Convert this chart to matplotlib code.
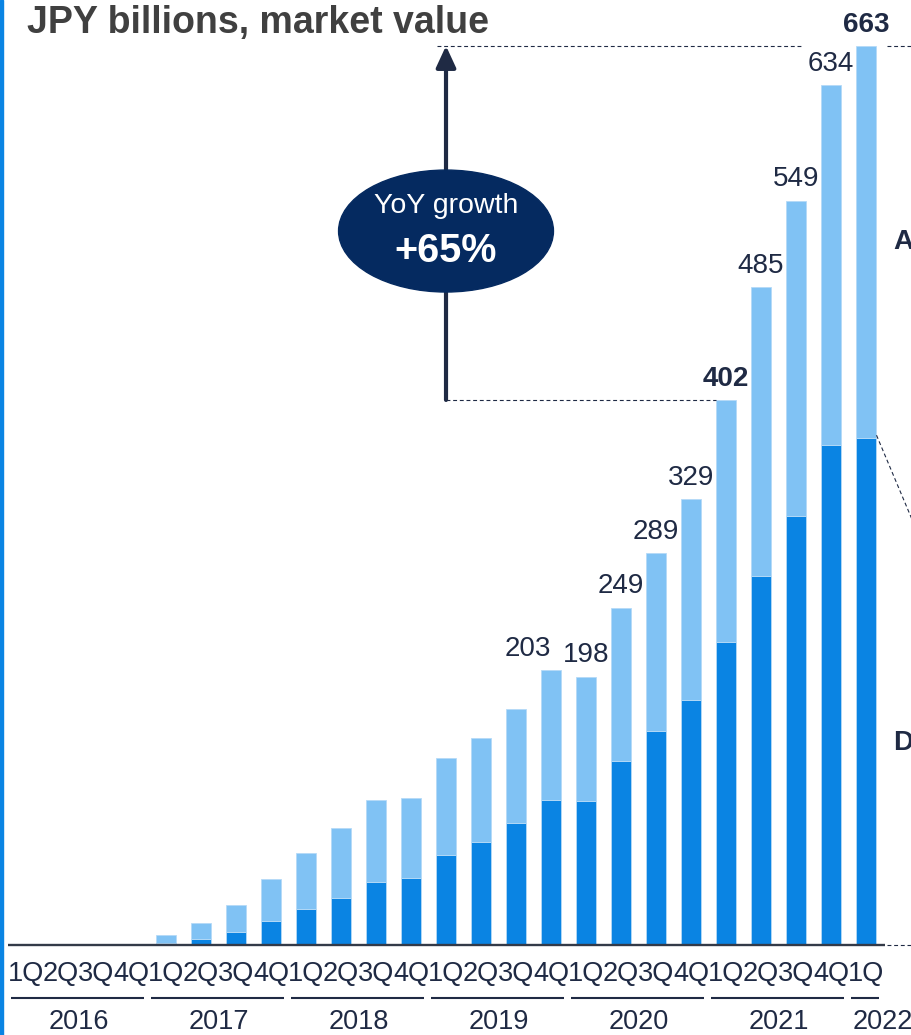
import numpy as np
import matplotlib.pyplot as plt
from matplotlib.patches import Ellipse, Rectangle

plt.rcParams['font.family'] = ['Liberation Sans', 'DejaVu Sans']

# quarterly market value, JPY billions
quarters = ['1Q', '2Q', '3Q', '4Q'] * 6 + ['1Q']
years = ['2016', '2017', '2018', '2019', '2020', '2021', '2022']
total = [0, 0, 0.3, 1.2,
         7.6, 16.2, 29.5, 48.9,
         67.8, 86.2, 106.9, 108.6,
         138.3, 152.6, 174.2, 203,
         198, 249, 289, 329,
         402, 485, 549, 634,
         663]
lower = [0, 0, 0.2, 0.8,
         1.9, 4.4, 9.8, 17.9,
         26.5, 35.1, 46.9, 49.8,
         66.6, 75.9, 90.1, 107.1,
         106.4, 136.1, 158.2, 180.8,
         223.6, 272.4, 316.7, 368.8,
         374.2]
labelled = [15, 16, 17, 18, 19, 20, 21, 22, 23, 24]
bold_labels = [20, 24]

dark_blue = '#0A84E3'
light_blue = '#80C2F4'
navy = '#1F2A44'
oval = '#052A60'

x = np.arange(len(total))
lower = np.array(lower)
upper = np.array(total) - lower

fig = plt.figure(figsize=(9.12, 10.35), dpi=100)
ax = fig.add_axes([0, 0, 1, 1])
ax.axis('off')
ax.set_xlim(-0.743, 25.314)
ax.set_ylim(-66.1, 696.8)

w = 0.57
ax.bar(x, lower, width=w, color=dark_blue, edgecolor='#b5daf7', linewidth=0.6, zorder=2)
ax.bar(x, upper, bottom=lower, width=w, color=light_blue, edgecolor='#b5daf7',
       linewidth=0.6, zorder=2)

# baseline
ax.plot([-0.51, 24.54], [0, 0], color='#333A48', lw=1.7, zorder=3, solid_capstyle='butt')
dash = (0, (3.5, 2.5))
ax.plot([24.6, 25.4], [0, 0], color=navy, lw=0.8, ls=dash)

# value labels
for i in labelled:
    dx = -17 if i == 15 else 0
    ax.annotate(f'{total[i]:g}', (x[i], total[i]), xytext=(dx, 6),
                textcoords='offset points', ha='center', va='bottom',
                fontsize=20, color=navy,
                fontweight='bold' if i in bold_labels else 'normal')

# growth arrow between 1Q 2021 and 1Q 2022
ax_x = 12
ax.plot([ax_x, 19.71], [total[20], total[20]], color=navy, lw=0.8, ls=dash)
ax.plot([11.75, 22.17], [total[24], total[24]], color=navy, lw=0.8, ls=dash)
ax.plot([24.6, 25.4], [total[24], total[24]], color=navy, lw=0.8, ls=dash)
ax.annotate('', xy=(ax_x, total[24]), xytext=(ax_x, total[20]),
            arrowprops=dict(arrowstyle='-|>,head_length=0.65,head_width=0.3',
                            lw=3, color=navy, mutation_scale=20,
                            shrinkA=0, shrinkB=0), zorder=4)
ax.add_patch(Ellipse((ax_x, 526.5), 6.14, 89.9, color=oval, zorder=5))
ax.text(ax_x, 545, 'YoY growth', ha='center', va='center', color='white',
        fontsize=20.5, zorder=6)
ax.text(ax_x, 512, '+65%', ha='center', va='center', color='white',
        fontsize=28.5, fontweight='bold', zorder=6)

# leader line to the side panel
ax.plot([24.3, 25.4], [376, 308.7], color=navy, lw=0.8, ls=dash)
ax.text(24.77, 518.4, 'A', ha='left', va='center', fontsize=20,
        fontweight='bold', color=navy)
ax.text(24.77, 149.1, 'D', ha='left', va='center', fontsize=20,
        fontweight='bold', color=navy)

# quarter and year axis
for i, q in enumerate(quarters):
    ax.text(x[i], -21.2, q, ha='center', va='center', fontsize=19.5, color=navy)
for k, yr in enumerate(years):
    first = k * 4
    last = min(first + 3, len(total) - 1)
    ax.plot([first - 0.42, last + 0.36], [-38.9, -38.9], color=navy, lw=1.5,
            solid_capstyle='butt')
    if yr == '2022':
        ax.text(first - 0.38, -56.8, yr, ha='left', va='center', fontsize=19.5,
                color=navy)
    else:
        ax.text((first + last) / 2, -56.8, yr, ha='center', va='center',
                fontsize=19.5, color=navy)

fig.text(27 / 912, 1 - 33 / 1035, 'JPY billions, market value', ha='left',
         va='baseline', fontsize=27, fontweight='bold', color='#404040')
fig.patches.append(Rectangle((0, 0), 3 / 912, 1, transform=fig.transFigure,
                             color='#0A84E3', zorder=10))

fig.savefig('out.png', dpi=100)
